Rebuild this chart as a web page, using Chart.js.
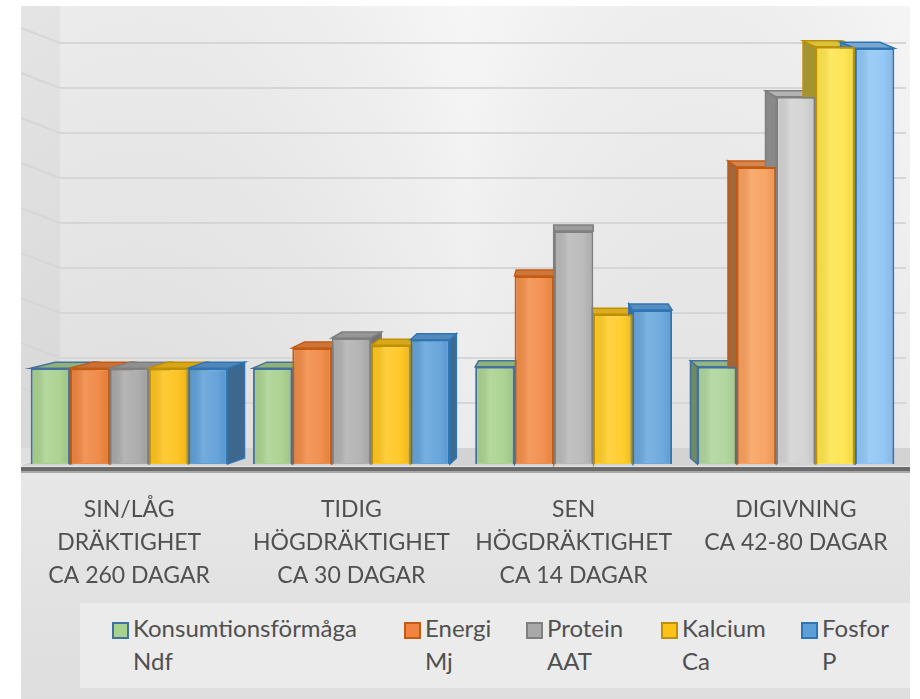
<!DOCTYPE html>
<html>
<head>
<meta charset="utf-8">
<script src="https://cdn.jsdelivr.net/npm/chart.js@4.4.0/dist/chart.umd.min.js"></script>
<style>
    html, body { margin: 0; padding: 0; background: #fff; }
    #wrap { position: relative; width: 920px; height: 699px; overflow: hidden; }
    #chart { position: absolute; left: 0; top: 0; }
    #legend {
        position: absolute; left: 80px; top: 603px; width: 830px; height: 85px;
        background: #ebebeb; font-family: Lato, sans-serif; font-size: 24px; color: #505050;
    }
    .item { position: absolute; top: 8px; line-height: 33px; white-space: nowrap; }
    .box { position: absolute; left: -21px; top: 11px; width: 13px; height: 13px; border: 2px solid; }
</style>
</head>
<body>
<div id="wrap">
    <canvas id="chart" width="920" height="699"></canvas>
    <div id="legend"></div>
</div>
<script>
// --- data ---
const categories = [
    ['SIN/LÅG', 'DRÄKTIGHET', 'CA 260 DAGAR'],
    ['TIDIG', 'HÖGDRÄKTIGHET', 'CA 30 DAGAR'],
    ['SEN', 'HÖGDRÄKTIGHET', 'CA 14 DAGAR'],
    ['DIGIVNING', 'CA 42-80 DAGAR']
];
const seriesNames = [['Konsumtionsförmåga', 'Ndf'], ['Energi', 'Mj'], ['Protein', 'AAT'], ['Kalcium', 'Ca'], ['Fosfor', 'P']];
const ndf     = [2.13, 2.13, 2.16, 2.16];
const energi  = [2.13, 2.58, 4.18, 6.60];
const protein = [2.13, 2.80, 5.18, 8.16];
const kalcium = [2.13, 2.64, 3.33, 9.27];
const fosfor  = [2.13, 2.76, 3.42, 9.24];
const gridTicks = [0, 1, 2, 3, 4, 5, 6, 7, 8, 9];

// --- styles ---
const fills = [
    ['#a9d18e', '#a9d18e', '#a9d18e', '#add49a'],
    ['#ef8540', '#f08a45', '#f28c48', '#f89f5c'],
    ['#a9a9a9', '#b0b0b0', '#b8b8b8', '#d2d2d2'],
    ['#fdc21a', '#ffc61f', '#ffcb25', '#fde44a'],
    ['#5e9fd8', '#62a2da', '#68a7dd', '#8ec5f4']
];
const borders = ['#41719c', '#c55a11', '#7f7f7f', '#bf9000', '#2e75b6'];
const legendLeft = [133, 425, 547, 682, 822];
const DEPTH = 16;       // floor depth in px (front edge -> back wall)
const BAR_DY = -6;      // bar top face rise
const VP_X = 569, VP_K = 0.047;

function shade(hex, f) {
    const n = parseInt(hex.slice(1), 16);
    let r = (n >> 16) & 255, g = (n >> 8) & 255, b = n & 255;
    const m = c => Math.max(0, Math.min(255, Math.round(f < 0 ? c * (1 + f) : c + (255 - c) * f)));
    return `rgb(${m(r)},${m(g)},${m(b)})`;
}

// --- background, walls, gridlines, floor ---
const scenePlugin = {
    id: 'scene',
    beforeDraw(chart) {
        const ctx = chart.ctx;
        const area = chart.chartArea;
        const yScale = chart.scales.y;
        const left = 21, right = 910, top = 6;
        const wallX = 60;
        const floorBack = yScale.getPixelForValue(0) - DEPTH;

        ctx.save();
        // outer box
        const g = ctx.createLinearGradient(0, top, 0, 699);
        g.addColorStop(0, '#f5f5f5');
        g.addColorStop(0.6, '#e9e9e9');
        g.addColorStop(1, '#dedede');
        ctx.fillStyle = g;
        ctx.fillRect(left, top, right - left, 699 - top);

        const h = ctx.createLinearGradient(left, 0, right, 0);
        h.addColorStop(0, 'rgba(0,0,0,0.035)');
        h.addColorStop(0.5, 'rgba(255,255,255,0.12)');
        h.addColorStop(1, 'rgba(0,0,0,0.0)');
        ctx.fillStyle = h;
        ctx.fillRect(left, top, right - left, floorBack - top);

        // side wall
        ctx.fillStyle = 'rgba(0,0,0,0.03)';
        ctx.beginPath();
        ctx.moveTo(left, top); ctx.lineTo(wallX, top);
        ctx.lineTo(wallX, floorBack); ctx.lineTo(left, area.bottom);
        ctx.closePath(); ctx.fill();

        // gridlines on side + back wall
        ctx.strokeStyle = '#d6d6d6';
        ctx.lineWidth = 2;
        gridTicks.forEach(v => {
            if (v === 0) return;
            const py = yScale.getPixelForValue(v) - DEPTH;
            ctx.beginPath();
            ctx.moveTo(left, py - 15);
            ctx.lineTo(wallX, py);
            ctx.lineTo(right - 4, py);
            ctx.stroke();
        });

        // floor
        ctx.fillStyle = '#d3d3d3';
        ctx.beginPath();
        ctx.moveTo(left, area.bottom + 2);
        ctx.lineTo(wallX, floorBack);
        ctx.lineTo(right, floorBack);
        ctx.lineTo(right, area.bottom + 2);
        ctx.closePath(); ctx.fill();
        ctx.fillStyle = '#6b6b6b';
        ctx.fillRect(left, area.bottom + 3, right - left, 4);
        ctx.fillStyle = '#a8a8a8';
        ctx.fillRect(left, area.bottom + 7, right - left, 2);
        ctx.restore();
    },
    beforeDatasetsDraw(chart) {
        // side and top faces; front faces are drawn by Chart.js on top
        const ctx = chart.ctx;
        ctx.save();
        ctx.lineWidth = 1.5;
        chart.data.datasets.forEach((ds, di) => {
            const meta = chart.getDatasetMeta(di);
            meta.data.forEach((bar, i) => {
                const p = bar.getProps(['x', 'y', 'base', 'width'], true);
                const l = p.x - p.width / 2, r = p.x + p.width / 2;
                const dx = (VP_X - p.x) * VP_K, dy = BAR_DY;
                const col = fills[di][i];
                const ex = dx > 0 ? r : l;
                ctx.strokeStyle = borders[di];
                ctx.fillStyle = shade(col, -0.35);
                ctx.beginPath();
                ctx.moveTo(ex, p.y); ctx.lineTo(ex + dx, p.y + dy);
                ctx.lineTo(ex + dx, p.base + dy); ctx.lineTo(ex, p.base);
                ctx.closePath(); ctx.fill(); ctx.stroke();
                ctx.fillStyle = shade(col, -0.15);
                ctx.beginPath();
                ctx.moveTo(l, p.y); ctx.lineTo(l + dx, p.y + dy);
                ctx.lineTo(r + dx, p.y + dy); ctx.lineTo(r, p.y);
                ctx.closePath(); ctx.fill(); ctx.stroke();
            });
        });
        ctx.restore();
    },
    afterDatasetsDraw(chart) {
        // soft lighting on front faces
        const ctx = chart.ctx;
        ctx.save();
        chart.data.datasets.forEach((ds, di) => {
            chart.getDatasetMeta(di).data.forEach(bar => {
                const p = bar.getProps(['x', 'y', 'base', 'width'], true);
                const l = p.x - p.width / 2 + 2, w = p.width - 4;
                const g = ctx.createLinearGradient(l, 0, l + w, 0);
                g.addColorStop(0, 'rgba(0,0,0,0.04)');
                g.addColorStop(0.35, 'rgba(255,255,255,0.14)');
                g.addColorStop(0.75, 'rgba(255,255,255,0.05)');
                g.addColorStop(1, 'rgba(0,0,0,0.06)');
                ctx.fillStyle = g;
                ctx.fillRect(l, p.y + 2, w, p.base - p.y - 3);
            });
        });
        ctx.restore();
    }
};

const values = [ndf, energi, protein, kalcium, fosfor];

new Chart(document.getElementById('chart'), {
    type: 'bar',
    data: {
        labels: categories,
        datasets: values.map((vals, i) => ({
            label: seriesNames[i].join(' '),
            data: vals,
            backgroundColor: fills[i],
            borderColor: borders[i],
            borderWidth: 2,
            categoryPercentage: 0.886,
            barPercentage: 1
        }))
    },
    options: {
        responsive: false,
        animation: false,
        events: [],
        layout: { padding: { top: 5, left: 18, right: 13, bottom: 0 } },
        plugins: { legend: { display: false }, tooltip: { enabled: false } },
        scales: {
            x: {
                grid: { display: false, drawTicks: false },
                border: { display: false },
                ticks: {
                    autoSkip: false, maxRotation: 0, padding: 29,
                    color: '#505050',
                    font: { family: 'Lato', size: 23, lineHeight: '33px' }
                },
                afterFit(scale) { scale.height = 235; }
            },
            y: {
                display: false,
                min: 0,
                max: 10.2
            }
        }
    },
    plugins: [scenePlugin]
});

// --- legend ---
const legend = document.getElementById('legend');
seriesNames.forEach((name, i) => {
    const item = document.createElement('div');
    item.className = 'item';
    item.style.left = (legendLeft[i] - 80) + 'px';
    item.innerHTML = `<span class="box" style="background:${fills[i][0]};border-color:${borders[i]}"></span>${name[0]}<br>${name[1]}`;
    legend.appendChild(item);
});
</script>
</body>
</html>
